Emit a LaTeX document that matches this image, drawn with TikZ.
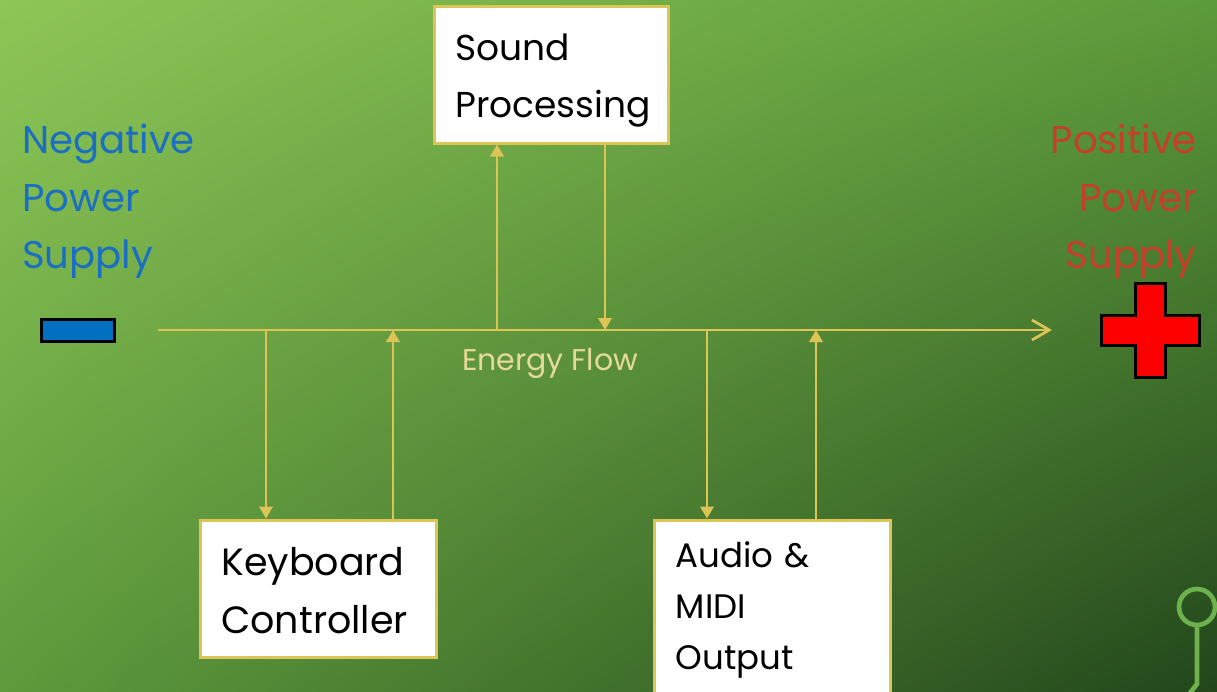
\documentclass[tikz,border=0pt]{standalone}
\usepackage{fontspec}
\setmainfont{Poppins}
\usetikzlibrary{arrows.meta,shadings}
\definecolor{bgTL}{HTML}{8EC657}
\definecolor{bgTR}{HTML}{5C9B3A}
\definecolor{bgBL}{HTML}{5E9B3C}
\definecolor{bgBR}{HTML}{22461B}
\definecolor{lineyellow}{HTML}{DCC456}
\definecolor{energy}{HTML}{E6DA98}
\definecolor{negblue}{HTML}{1A6FC2}
\definecolor{posred}{HTML}{C4402A}
\definecolor{negfill}{HTML}{0070C0}
\definecolor{decogreen}{HTML}{6DB24E}
\begin{document}
\begin{tikzpicture}[x=0.75pt,y=-0.75pt,
  box/.style={draw=lineyellow, line width=2.25pt, fill=white, text=black, align=left, inner ysep=0pt, inner xsep=16pt},
  conn/.style={draw=lineyellow, line width=2pt},
  tipin/.style={-{Triangle[width=10pt,length=9pt]}},
  powertext/.style={inner sep=0pt, font=\fontsize{29}{43}\selectfont}]
\useasboundingbox (0,0) rectangle (1217,692);
\clip (0,0) rectangle (1217,692);
\shade[upper left=bgTL, upper right=bgTR, lower left=bgBL, lower right=bgBR] (0,0) rectangle (1217,692);

% boxes
\node[box, text width=144pt, minimum width=176pt, minimum height=102pt, font=\fontsize{27}{43}\selectfont] (sp) at (551.5,75) {\rule{0pt}{28pt}Sound\\Processing};
\node[box, text width=145pt, minimum width=177pt, minimum height=102.75pt, font=\fontsize{28.5}{43}\selectfont] (kc) at (318,588.5) {\rule{0pt}{24pt}Keyboard\\Controller};
\node[box, text width=145pt, minimum width=176pt, minimum height=135pt, font=\fontsize{25.5}{38.5}\selectfont] (amo) at (772.5,610) {Audio \&\\MIDI\\Output};

% main energy line
\coordinate (mstart) at (158,330);
\coordinate (mend) at (1052,330);
\draw[conn, -{Straight Barb[length=13pt,width=15pt]}] (mstart) -- (mend);
\node[text=energy, font=\fontsize{22.5}{26}\selectfont] (ef) at (550,363) {Energy Flow};

% junctions
\coordinate (j1) at (266,330);
\coordinate (j2) at (393,330);
\coordinate (j3) at (497,330);
\coordinate (j4) at (605,330);
\coordinate (j5) at (707,330);
\coordinate (j6) at (816,330);
\draw[conn, tipin] (j1) -- (j1 |- kc.north);
\draw[conn, tipin] (j2 |- kc.north) -- (j2);
\draw[conn, tipin] (j3) -- (j3 |- sp.south);
\draw[conn, tipin] (j4 |- sp.south) -- (j4);
\draw[conn, tipin] (j5) -- (j5 |- amo.north);
\draw[conn, tipin] (j6 |- amo.north) -- (j6);

% power supply labels
\node[powertext, anchor=north west, align=left, text=negblue] (negtxt) at (22,124) {Negative\\Power\\Supply};
\node[powertext, anchor=north east, align=right, text=posred] (postxt) at (1197,124) {Positive\\Power\\Supply};

% symbols
\node[draw=black, line width=2.25pt, fill=negfill, minimum width=55pt, minimum height=16.5pt, inner sep=0pt] (negsym) at (78,330.5) {};
\draw[black, line width=2.25pt, fill=red]
  (1135.5,283.5) -- (1165.5,283.5) -- (1165.5,315.5) -- (1199.5,315.5) -- (1199.5,345.5)
  -- (1165.5,345.5) -- (1165.5,377.5) -- (1135.5,377.5) -- (1135.5,345.5) -- (1101.5,345.5)
  -- (1101.5,315.5) -- (1135.5,315.5) -- cycle;

% corner decoration
\draw[decogreen, line width=3.5pt] (1197,607) circle[radius=18];
\draw[decogreen, line width=3.5pt] (1197,625) -- (1197,684) -- (1186,698);
\end{tikzpicture}
\end{document}
